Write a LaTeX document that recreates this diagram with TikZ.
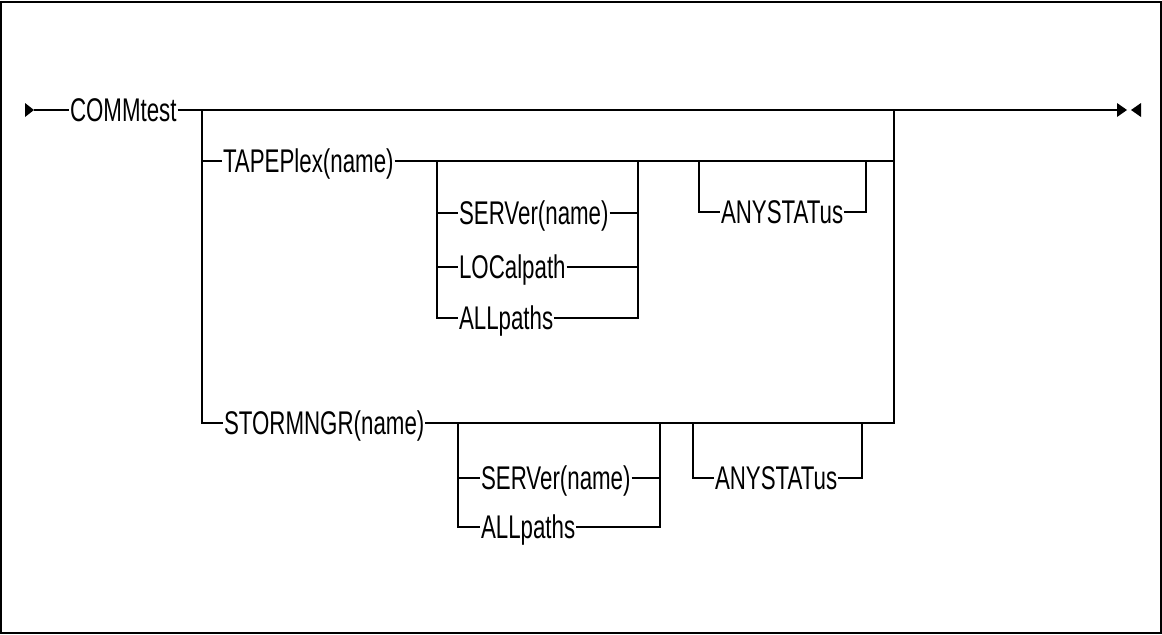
\documentclass[tikz,border=0pt]{standalone}
\usepackage{fontspec}
\newfontfamily\railfamily{Liberation Sans}[FakeStretch=0.68]

\begin{document}
\begin{tikzpicture}[
  x=0.5pt,y=-0.5pt,line width=1pt,
  font=\railfamily\fontsize{16.4pt}{20pt}\selectfont,
  kw/.style={anchor=west,inner sep=0pt,text height=11pt,text depth=0pt},
  tip/.style={fill=black,draw=none},
]
\useasboundingbox (0,0) rectangle (1162,634);
\draw (1,1.5) rectangle (1161,633);

\coordinate (start) at (34,110);
\coordinate (stop) at (1117,110);
\coordinate (split) at (202,110);
\coordinate (join) at (894,110);
\fill[tip] ([shift={(-9,-7)}]start) -- (start) -- ([shift={(-9,7)}]start) -- cycle;
\fill[tip] (stop) -- ++(0,-7) -- ++(10,7) -- ++(-10,7) -- cycle;
\fill[tip] ([shift={(24,-7)}]stop) -- ([shift={(14,0)}]stop)
  -- ([shift={(24,7)}]stop) -- cycle;

\node[kw] (comm) at (69,110) {COMMtest};
\node[kw] (tape) at (222,161) {TAPEPlex(name)};
\node[kw] (stor) at (223,423) {STORMNGR(name)};

\draw (start) -- (comm.west);
\draw (comm.east) -- (stop);
\draw (split) |- (stor.west);
\draw (split |- tape.west) -- (tape.west);
\draw (tape.east) -- (join |- tape.east);
\draw (stor.east) -| (join);

\coordinate (s1L) at (437,161);
\coordinate (s1R) at (638,161);
\coordinate (a1L) at (699,161);
\coordinate (a1R) at (866,161);
\node[kw] (srv1) at (458,213) {SERVer(name)};
\node[kw] (loc1) at (458,267) {LOCalpath};
\node[kw] (all1) at (458,318) {ALLpaths};
\node[kw] (any1) at (720,212) {ANYSTATus};

\draw (s1L) |- (all1.west);
\draw (s1L |- srv1.west) -- (srv1.west);
\draw (s1L |- loc1.west) -- (loc1.west);
\draw (srv1.east) -- (s1R |- srv1.east);
\draw (loc1.east) -- (s1R |- loc1.east);
\draw (all1.east) -| (s1R);
\draw (a1L) |- (any1.west);
\draw (any1.east) -| (a1R);

\coordinate (s2L) at (458,423);
\coordinate (s2R) at (660,423);
\coordinate (a2L) at (693,423);
\coordinate (a2R) at (862,423);
\node[kw] (srv2) at (480,478) {SERVer(name)};
\node[kw] (all2) at (480,527) {ALLpaths};
\node[kw] (any2) at (714,478) {ANYSTATus};

\draw (s2L) |- (all2.west);
\draw (s2L |- srv2.west) -- (srv2.west);
\draw (srv2.east) -- (s2R |- srv2.east);
\draw (all2.east) -| (s2R);
\draw (a2L) |- (any2.west);
\draw (any2.east) -| (a2R);
\end{tikzpicture}
\end{document}
